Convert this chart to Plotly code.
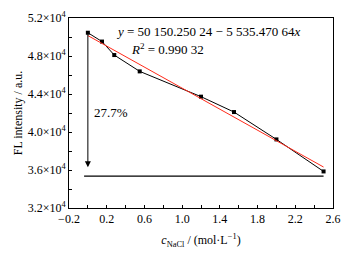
import plotly.graph_objects as go

# data
conc = [0.0, 0.15, 0.28, 0.55, 1.2, 1.55, 2.0, 2.5]
intensity = [50450, 49520, 48100, 46380, 43720, 42100, 39220, 35850]
fit_x = [0.0, 2.5]
intercept = 50150.25024
slope = -5535.47064
base_x = [-0.04, 2.5]
base_y = 35350
arrow_top = 50450
arrow_bottom = 36300
y_ticks = [32000, 36000, 40000, 44000, 48000, 52000]
y_ticktext = ["3.2×10<sup>4</sup>", "3.6×10<sup>4</sup>", "4.0×10<sup>4</sup>",
              "4.4×10<sup>4</sup>", "4.8×10<sup>4</sup>", "5.2×10<sup>4</sup>"]
x_ticks = [-0.2, 0.2, 0.6, 1.0, 1.4, 1.8, 2.2, 2.6]
x_ticktext = ["−0.2", "0.2", "0.6", "1.0", "1.4", "1.8", "2.2", "2.6"]

FONT = "Liberation Serif, Times New Roman, serif"

fig = go.Figure()
fig.add_trace(go.Scatter(x=conc, y=intensity, mode="lines+markers",
                         line=dict(color="black", width=1),
                         marker=dict(symbol="square", size=4, color="black"),
                         showlegend=False))
fig.add_trace(go.Scatter(x=fit_x, y=[intercept + slope * v for v in fit_x], mode="lines",
                         line=dict(color="#ff2a1a", width=1), showlegend=False))
fig.add_trace(go.Scatter(x=base_x, y=[base_y, base_y], mode="lines",
                         line=dict(color="black", width=1.3), showlegend=False))

fig.add_annotation(x=0.0, y=arrow_bottom, ax=0.0, ay=arrow_top, xref="x", yref="y",
                   axref="x", ayref="y", showarrow=True, arrowhead=2, arrowsize=1.2,
                   arrowwidth=1, arrowcolor="black", text="")
fig.add_annotation(x=0.25, y=42100, xref="x", yref="y", text="27.7%", showarrow=False,
                   font=dict(family=FONT, size=13, color="black"))
fig.add_annotation(x=1.27, y=50530, xref="x", yref="y",
                   text="<i>y</i> = 50 150.250 24 − 5 535.470 64<i>x</i>",
                   showarrow=False, font=dict(family=FONT, size=13, color="black"))
fig.add_annotation(x=0.44, y=48710, xref="x", yref="y", xanchor="left",
                   text="<i>R</i><sup>2</sup> = 0.990 32",
                   showarrow=False, font=dict(family=FONT, size=13, color="black"))

axis_common = dict(showline=True, linecolor="black", linewidth=1, mirror=True,
                   ticks="inside", ticklen=3, tickcolor="black", tickwidth=1,
                   showgrid=False, zeroline=False, ticklabeloverflow="allow",
                   tickfont=dict(family=FONT, size=12, color="black"))

fig.update_xaxes(range=[-0.2, 2.6], tickvals=x_ticks, ticktext=x_ticktext,
                 minor=dict(ticks="inside", ticklen=3, tickcolor="black", dtick=0.2, tick0=0),
                 title=dict(text="<i>c</i><sub>NaCl</sub> / (mol·L<sup>−1</sup>)",
                            font=dict(family=FONT, size=12, color="black"), standoff=10),
                 **axis_common)
fig.update_yaxes(range=[32000, 52000], tickvals=y_ticks, ticktext=y_ticktext,
                 minor=dict(ticks="inside", ticklen=3, tickcolor="black", dtick=2000, tick0=0),
                 title=dict(text="FL intensity / a.u.",
                            font=dict(family=FONT, size=12, color="black"), standoff=2),
                 **axis_common)

fig.update_layout(width=351, height=256, margin=dict(l=69, r=11, t=10, b=48),
                  plot_bgcolor="white", paper_bgcolor="white")
fig.write_html("out.html", config={"displayModeBar": False},
               post_script="document.body.style.margin='0';")
